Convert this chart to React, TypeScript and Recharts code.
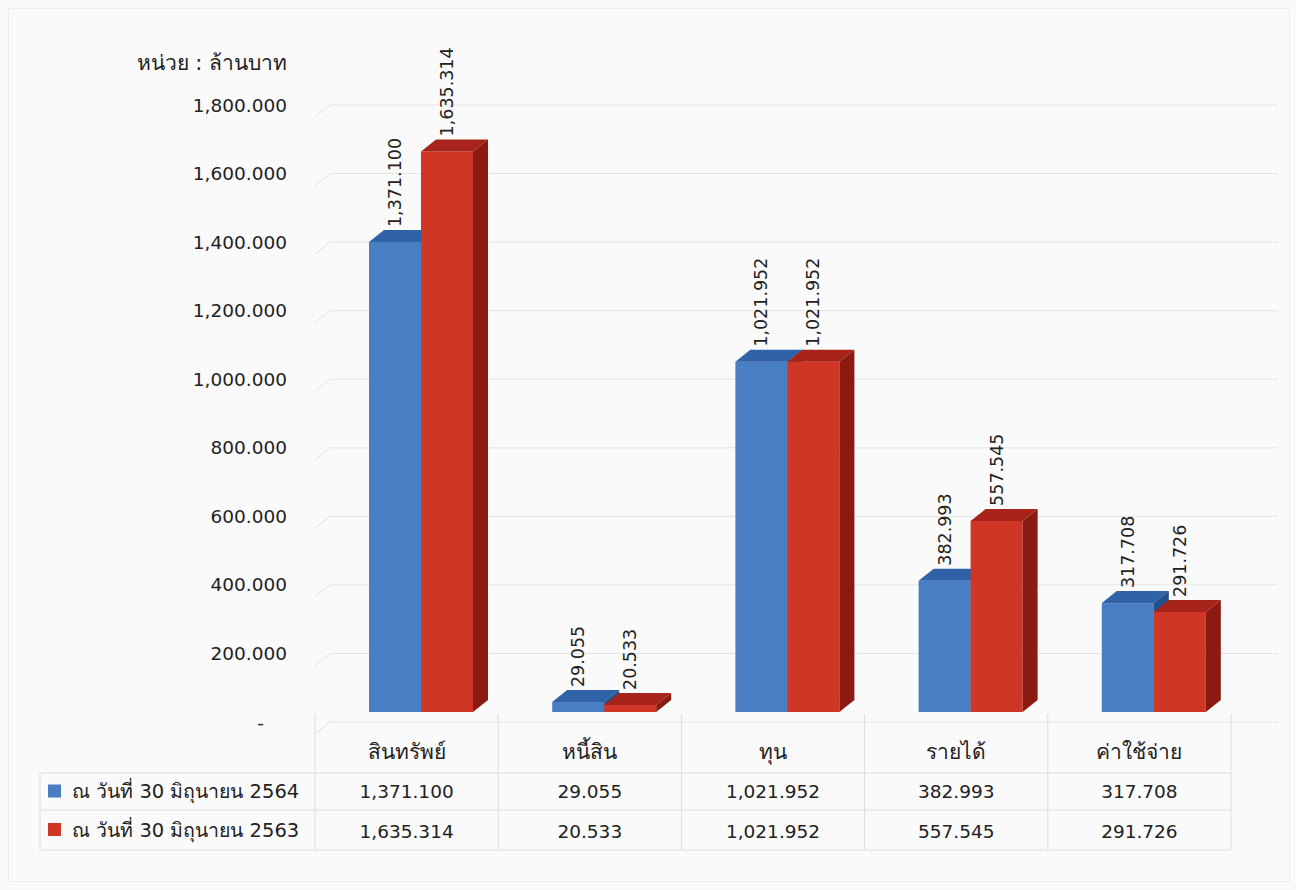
import React from 'react';
import { BarChart, Bar, XAxis, YAxis, CartesianGrid, LabelList } from 'recharts';

const categories = ['สินทรัพย์', 'หนี้สิน', 'ทุน', 'รายได้', 'ค่าใช้จ่าย'];
const values2564 = [1371.1, 29.055, 1021.952, 382.993, 317.708];
const values2563 = [1635.314, 20.533, 1021.952, 557.545, 291.726];
const seriesNames = ['ณ วันที่ 30 มิถุนายน 2564', 'ณ วันที่ 30 มิถุนายน 2563'];
const yTicks = [0, 200, 400, 600, 800, 1000, 1200, 1400, 1600, 1800];
const unitLabel = 'หน่วย : ล้านบาท';

const data = categories.map((name, i) => ({ name, y2564: values2564[i], y2563: values2563[i] }));

const FONT = "'DejaVu Sans', 'Noto Sans', sans-serif";
const TEXT = '#222';
const LINE = '#dcdcdc';

const BLUE = { front: '#4a7ec2', top: '#2f62a6', side: '#234f8a' };
const RED = { front: '#cf3626', top: '#a8241a', side: '#8a1a12' };

// fake 3d: depth of the boxes and how far the front face sits from the axis
const DX = 15;
const DY = 12;
const SHIFT_X = 14;
const LIFT = 10;
const CELL = 183.2;
const LEGEND_LEFT = 40;

const fmt = (v: number) =>
  v.toLocaleString('en-US', { minimumFractionDigits: 3, maximumFractionDigits: 3 });

const box = (c: typeof BLUE) => (props: any) => {
  const { x, y, width, height } = props;
  const fx = x + SHIFT_X;
  const fy = y - LIFT;
  return (
    <g>
      <rect x={fx} y={fy} width={width} height={height} fill={c.front} />
      <polygon
        points={`${fx},${fy} ${fx + width},${fy} ${fx + width + DX},${fy - DY} ${fx + DX},${fy - DY}`}
        fill={c.top}
      />
      <polygon
        points={`${fx + width},${fy} ${fx + width + DX},${fy - DY} ${fx + width + DX},${fy + height - DY} ${fx + width},${fy + height}`}
        fill={c.side}
      />
    </g>
  );
};

const barLabel = (props: any) => {
  const { x, y, width, value } = props;
  const cx = x + SHIFT_X + width / 2;
  const cy = y - LIFT - 15;
  return (
    <text
      x={cx}
      y={cy}
      transform={`rotate(-90 ${cx} ${cy})`}
      textAnchor="start"
      dominantBaseline="central"
      fontSize={17.5}
      fontFamily={FONT}
      fill={TEXT}
    >
      {fmt(value)}
    </text>
  );
};

const YTick = (props: any) => {
  const { x, y, payload } = props;
  const zero = payload.value === 0;
  return (
    <text x={zero ? x - 23 : x} y={y} textAnchor="end" dominantBaseline="central" fontSize={18.5} fontFamily={FONT} fill={TEXT}>
      {zero ? '-' : fmt(payload.value)}
    </text>
  );
};

// category header + the two data-table rows underneath each column;
// the first column also carries the legend cells on its left
const TableTick = (props: any) => {
  const { x, y, payload, index } = props;
  const l = x - CELL / 2;
  const r = x + CELL / 2;
  const top = y;
  const rowY = [top + 51, top + 88, top + 128];
  return (
    <g fontFamily={FONT} fill={TEXT}>
      <line x1={l} y1={top - 8} x2={l} y2={rowY[2]} stroke={LINE} />
      {index === categories.length - 1 && <line x1={r} y1={top - 8} x2={r} y2={rowY[2]} stroke={LINE} />}
      {rowY.map((ry) => (
        <line key={ry} x1={index === 0 ? LEGEND_LEFT : l} y1={ry} x2={r} y2={ry} stroke={LINE} />
      ))}
      {index === 0 && (
        <g>
          <line x1={LEGEND_LEFT} y1={rowY[0]} x2={LEGEND_LEFT} y2={rowY[2]} stroke={LINE} />
          {[BLUE, RED].map((c, i) => {
            const cy = (rowY[i] + rowY[i + 1]) / 2;
            return (
              <g key={i}>
                <rect x={LEGEND_LEFT + 8} y={cy - 7} width={13} height={13} fill={c.front} />
                <text x={LEGEND_LEFT + 32} y={cy} dominantBaseline="central" fontSize={19.5}>
                  {seriesNames[i]}
                </text>
              </g>
            );
          })}
        </g>
      )}
      <text x={x} y={top + 30} textAnchor="middle" dominantBaseline="central" fontSize={21}>{payload.value}</text>
      <text x={x} y={top + 69} textAnchor="middle" dominantBaseline="central" fontSize={18.5}>{fmt(values2564[index])}</text>
      <text x={x} y={top + 109} textAnchor="middle" dominantBaseline="central" fontSize={18.5}>{fmt(values2563[index])}</text>
    </g>
  );
};

const gridLine = (p: any) => (
  <g key={`g-${p.y1}`}>
    <line x1={p.x1} y1={p.y1 + DY} x2={p.x1 + DX} y2={p.y1} stroke="#e4e4e4" />
    <line x1={p.x1 + DX} y1={p.y1} x2={p.x2 + 47} y2={p.y1} stroke="#e4e4e4" />
  </g>
);

export default function App() {
  return (
    <div style={{ position: 'absolute', left: 0, top: 0, width: 1296, height: 890, background: '#fafafa' }}>
      <div
        style={{
          position: 'absolute',
          left: 8,
          top: 8,
          width: 1280,
          height: 872,
          border: '1px solid #ececec',
          pointerEvents: 'none',
        }}
      />
      <BarChart
        width={1296}
        height={890}
        data={data}
        margin={{ top: 105, right: 65, bottom: 0, left: 0 }}
        barSize={52}
        barGap={0}
      >
        <CartesianGrid vertical={false} horizontal={gridLine} />
        <YAxis
          width={315}
          domain={[0, 1800]}
          ticks={yTicks}
          axisLine={false}
          tickLine={false}
          tickSize={0}
          tickMargin={28}
          tick={<YTick />}
          label={({ viewBox }: any) => (
            <text
              x={viewBox.x + viewBox.width - 28}
              y={viewBox.y - 42}
              textAnchor="end"
              dominantBaseline="central"
              fontSize={21}
              fontFamily={FONT}
              fill={TEXT}
            >
              {unitLabel}
            </text>
          )}
        />
        <XAxis
          dataKey="name"
          height={168}
          axisLine={false}
          tickLine={false}
          tickSize={0}
          tickMargin={0}
          interval={0}
          tick={<TableTick />}
        />
        <Bar dataKey="y2564" shape={box(BLUE)} isAnimationActive={false}>
          <LabelList dataKey="y2564" content={barLabel} />
        </Bar>
        <Bar dataKey="y2563" shape={box(RED)} isAnimationActive={false}>
          <LabelList dataKey="y2563" content={barLabel} />
        </Bar>
      </BarChart>
    </div>
  );
}
